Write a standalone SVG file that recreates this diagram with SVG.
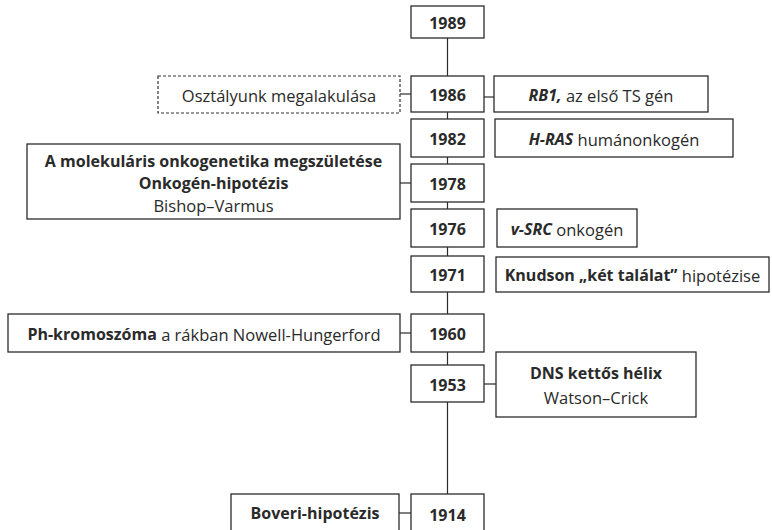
<svg xmlns="http://www.w3.org/2000/svg" width="772" height="530" viewBox="0 0 772 530">
<style>
.b{fill:#fff;stroke:#2b2b2b;stroke-width:1.3}
.d{fill:#fff;stroke:#333;stroke-width:1.2;stroke-dasharray:3 2}
.c{stroke:#2b2b2b;stroke-width:1.2;fill:none}
text{font-family:"Open Sans","Liberation Sans",sans-serif;font-size:16.5px;fill:#2a2a2a;text-anchor:middle;dominant-baseline:central}
.y{font-weight:700;font-size:16px}
.bd{font-weight:700;font-size:16px}
.it{font-weight:700;font-style:italic;font-size:16px}
</style>
<rect width="772" height="530" fill="#fff"/>
<g id="connectors">
<line class="c" x1="447.5" y1="38" x2="447.5" y2="494"/>
<line class="c" x1="400" y1="94" x2="411" y2="94"/>
<line class="c" x1="484" y1="97" x2="494" y2="97"/>
<line class="c" x1="400" y1="183" x2="411" y2="183"/>
<line class="c" x1="400" y1="333" x2="411" y2="333"/>
<line class="c" x1="484" y1="384" x2="496" y2="384"/>
<line class="c" x1="399" y1="513" x2="411" y2="513"/>
</g>
<g id="y1989"><rect class="b" x="411" y="6" width="73" height="32"/><text class="y" x="447.5" y="23">1989</text></g>
<g id="y1986"><rect class="b" x="411" y="76" width="73" height="36"/><text class="y" x="447.5" y="95">1986</text></g>
<g id="n1986a"><rect class="d" x="158" y="76" width="242" height="37"/><text x="279" y="95">Osztályunk megalakulása</text></g>
<g id="n1986b"><rect class="b" x="494" y="76" width="214" height="36"/><text x="601" y="95"><tspan class="it">RB1,</tspan> az első TS gén</text></g>
<g id="y1982"><rect class="b" x="411" y="119" width="73" height="38"/><text class="y" x="447.5" y="139">1982</text></g>
<g id="n1982"><rect class="b" x="495" y="119" width="238" height="38"/><text x="614" y="139"><tspan class="it">H-RAS</tspan> humánonkogén</text></g>
<g id="y1978"><rect class="b" x="411" y="164" width="73" height="38"/><text class="y" x="447.5" y="184">1978</text></g>
<g id="n1978"><rect class="b" x="27" y="144" width="373" height="75"/><text class="bd" x="213.5" y="161">A molekuláris onkogenetika megszületése</text><text class="bd" x="213.5" y="183">Onkogén-hipotézis</text><text x="213.5" y="205">Bishop–Varmus</text></g>
<g id="y1976"><rect class="b" x="411" y="209" width="73" height="38"/><text class="y" x="447.5" y="229">1976</text></g>
<g id="n1976"><rect class="b" x="497" y="209" width="140" height="38"/><text x="567" y="229"><tspan class="it">v-SRC</tspan> onkogén</text></g>
<g id="y1971"><rect class="b" x="411" y="256" width="73" height="36"/><text class="y" x="447.5" y="275">1971</text></g>
<g id="n1971"><rect class="b" x="496" y="257" width="273" height="35"/><text x="632.5" y="275"><tspan class="bd">Knudson „két találat”</tspan> hipotézise</text></g>
<g id="y1960"><rect class="b" x="411" y="314" width="73" height="38"/><text class="y" x="447.5" y="334">1960</text></g>
<g id="n1960"><rect class="b" x="8" y="314" width="392" height="38"/><text x="204" y="334"><tspan class="bd">Ph-kromoszóma</tspan> a rákban Nowell-Hungerford</text></g>
<g id="y1953"><rect class="b" x="411" y="365" width="73" height="37"/><text class="y" x="447.5" y="385">1953</text></g>
<g id="n1953"><rect class="b" x="496" y="352" width="200" height="65"/><text class="bd" x="596" y="373">DNS kettős hélix</text><text x="596" y="397">Watson–Crick</text></g>
<g id="y1914"><rect class="b" x="411" y="494" width="73" height="40"/><text class="y" x="447.5" y="515">1914</text></g>
<g id="n1914"><rect class="b" x="231" y="494" width="168" height="40"/><text class="bd" x="315" y="513">Boveri-hipotézis</text></g>
</svg>
